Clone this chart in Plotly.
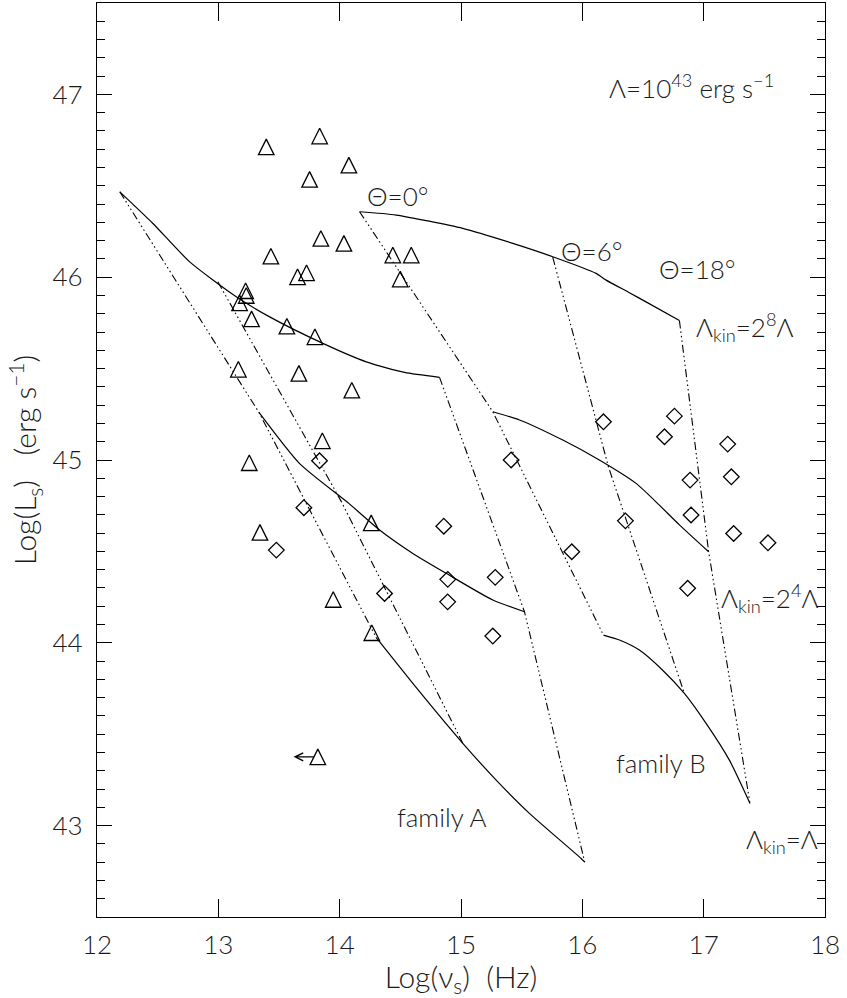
import plotly.graph_objects as go

# ---------------- data ----------------
# Triangles (family A sources)
tri_x = [13.395, 13.835, 14.076, 13.752, 13.845, 14.035, 13.433, 13.653, 13.727,
         13.225, 13.230, 13.175, 13.274, 13.565, 13.796, 13.165, 13.664, 14.438,
         14.590, 14.499, 14.100, 13.857, 13.255, 14.260, 13.343, 13.947, 14.265]
tri_y = [46.713, 46.772, 46.613, 46.535, 46.212, 46.185, 46.115, 46.002, 46.024,
         45.926, 45.900, 45.860, 45.772, 45.732, 45.674, 45.496, 45.474, 46.121,
         46.121, 45.990, 45.382, 45.105, 44.985, 44.656, 44.604, 44.237, 44.055]
# Upper limit in frequency (triangle with left arrow)
lim_x = [13.82]
lim_y = [43.376]
lim_to_x = [13.62]

# Diamonds (family B sources)
dia_x = [13.834, 13.705, 13.478, 14.370, 14.858, 14.891, 14.890, 15.262, 15.282,
         15.413, 15.913, 16.174, 16.355, 16.677, 16.759, 16.868, 16.888, 16.896,
         17.198, 17.228, 17.247, 17.530]
dia_y = [44.996, 44.739, 44.507, 44.270, 44.638, 44.347, 44.224, 44.037, 44.358,
         45.000, 44.498, 45.209, 44.667, 45.127, 45.240, 44.298, 44.890, 44.699,
         45.087, 44.908, 44.598, 44.547]

# Model curves, family A (solid: constant Lambda_kin)
a_top_x = [12.188, 12.461, 12.764, 13.148, 13.423, 13.862, 14.219, 14.535, 14.823]
a_top_y = [46.467, 46.294, 46.084, 45.893, 45.783, 45.638, 45.537, 45.479, 45.452]
a_mid_x = [13.335, 13.670, 14.080, 14.329, 14.603, 14.878, 15.262, 15.523]
a_mid_y = [45.260, 44.980, 44.760, 44.617, 44.489, 44.380, 44.234, 44.170]
a_bot_x = [14.300, 14.384, 14.603, 15.015, 15.290, 15.564, 15.990, 16.020]
a_bot_y = [44.030, 43.960, 43.778, 43.450, 43.249, 43.067, 42.820, 42.800]
# family A (dash-dot: constant Theta)
a_th0_x = [12.188, 13.335, 14.300]
a_th0_y = [46.467, 45.260, 44.030]
a_th6_x = [12.996, 14.015, 15.015]
a_th6_y = [45.975, 44.771, 43.450]
a_th18_x = [14.823, 15.523, 16.020]
a_th18_y = [45.452, 44.170, 42.800]

# Model curves, family B (solid)
b_top_x = [14.164, 14.466, 15.015, 15.427, 15.756, 16.113, 16.196, 16.388, 16.525, 16.800]
b_top_y = [46.358, 46.340, 46.267, 46.185, 46.112, 46.021, 45.984, 45.915, 45.865, 45.763]
b_mid_x = [15.262, 15.482, 15.839, 16.140, 16.443, 16.635, 16.800, 17.041]
b_mid_y = [45.264, 45.219, 45.109, 45.000, 44.872, 44.753, 44.645, 44.498]
b_bot_x = [16.174, 16.306, 16.470, 16.662, 16.841, 17.020, 17.212, 17.382]
b_bot_y = [44.042, 44.015, 43.960, 43.850, 43.723, 43.559, 43.358, 43.121]
# family B (dash-dot: constant Theta)
b_th0_x = [14.164, 15.262, 16.174]
b_th0_y = [46.358, 45.264, 44.042]
b_th6_x = [15.756, 16.213, 16.841]
b_th6_y = [46.110, 44.967, 43.723]
b_th18_x = [16.800, 17.041, 17.382]
b_th18_y = [45.763, 44.498, 43.121]

# ---------------- figure ----------------
FONT = "Lato"
INK = "#1a1a1a"
DASH = "8px,3px,1.5px,3px,1.5px,3px,1.5px,3px"
LBL = 26
TTL = 30
TCK = 26
NB = "\u00a0"

fig = go.Figure()

solid = [(a_top_x, a_top_y), (a_mid_x, a_mid_y), (a_bot_x, a_bot_y),
         (b_top_x, b_top_y), (b_mid_x, b_mid_y), (b_bot_x, b_bot_y)]
for xs, ys in solid:
    fig.add_trace(go.Scatter(x=xs, y=ys, mode="lines",
                             line=dict(color="black", width=1.2, shape="spline",
                                       smoothing=0.6),
                             showlegend=False, hoverinfo="skip"))

dashed = [(a_th0_x, a_th0_y), (a_th6_x, a_th6_y), (a_th18_x, a_th18_y),
          (b_th0_x, b_th0_y), (b_th6_x, b_th6_y), (b_th18_x, b_th18_y)]
for xs, ys in dashed:
    fig.add_trace(go.Scatter(x=xs, y=ys, mode="lines",
                             line=dict(color="black", width=1.1, dash=DASH),
                             showlegend=False, hoverinfo="skip"))

TRI_SIZE = 15.5
tri_marker = dict(symbol="arrow-down-open", size=TRI_SIZE, angle=180,
                  standoff=TRI_SIZE / 2, color="black",
                  line=dict(color="black", width=1.3))
fig.add_trace(go.Scatter(x=tri_x, y=tri_y, mode="markers", marker=tri_marker,
                         showlegend=False))
fig.add_trace(go.Scatter(x=lim_x, y=lim_y, mode="markers", marker=tri_marker,
                         showlegend=False))
fig.add_trace(go.Scatter(x=dia_x, y=dia_y, mode="markers",
                         marker=dict(symbol="diamond-open", size=12, color="black",
                                     line=dict(color="black", width=1.3)),
                         showlegend=False))

# upper-limit arrow
for x0, x1, y0 in zip(lim_x, lim_to_x, lim_y):
    fig.add_annotation(x=x1, y=y0, ax=x0 - 0.02, ay=y0, xref="x", yref="y",
                       axref="x", ayref="y", text="", showarrow=True,
                       arrowhead=5, arrowsize=1.3, arrowwidth=1.2,
                       arrowcolor="black")

labels = [
    (16.899, 47.045, "Λ=10<sup>43</sup> erg s<sup>−1</sup>", "center"),
    (14.477, 46.443, "Θ=0°", "center"),
    (16.079, 46.143, "Θ=6°", "center"),
    (16.948, 46.044, "Θ=18°", "center"),
    (16.923, 45.730, "Λ<sub>kin</sub>=2<sup>8</sup>Λ", "left"),
    (17.128, 44.245, "Λ<sub>kin</sub>=2<sup>4</sup>Λ", "left"),
    (17.335, 42.918, "Λ<sub>kin</sub>=Λ", "left"),
    (14.843, 43.046, "family A", "center"),
    (16.647, 43.345, "family B", "center"),
]
for x, y, t, anc in labels:
    fig.add_annotation(x=x, y=y, xref="x", yref="y", text=t, showarrow=False,
                       xanchor=anc, yanchor="middle",
                       font=dict(family=FONT, size=LBL, color=INK, weight=300))

fig.update_layout(
    width=847, height=998,
    margin=dict(l=97, r=22, t=3, b=81),
    paper_bgcolor="white", plot_bgcolor="white",
    font=dict(family=FONT, size=LBL, color=INK, weight=300),
    showlegend=False,
)
fig.update_xaxes(range=[12, 18], dtick=1, tick0=12, ticks="inside", ticklen=18,
                 tickwidth=1.1, tickcolor="black", showline=True, linecolor="black",
                 linewidth=1.3, mirror="ticks", showgrid=False, zeroline=False,
                 tickfont=dict(family=FONT, size=TCK, color=INK, weight=300),
                 ticklabelstandoff=5,
                 title=dict(text="Log(ν<sub>s</sub>)" + NB + NB + "(Hz)", standoff=0,
                            font=dict(family=FONT, size=TTL, color=INK, weight=300)))
fig.update_yaxes(range=[42.5, 47.5], dtick=1, tick0=43, ticks="inside", ticklen=15,
                 tickwidth=1.1, tickcolor="black", showline=True, linecolor="black",
                 linewidth=1.3, mirror="ticks", showgrid=False, zeroline=False,
                 minor=dict(dtick=0.1, ticks="inside", ticklen=8, tickwidth=1.0,
                            tickcolor="black", showgrid=False),
                 tickfont=dict(family=FONT, size=TCK, color=INK, weight=300),
                 ticklabelstandoff=8,
                 title=dict(text="Log(L<sub>s</sub>)" + NB * 3 + "(erg" + NB + "s<sup>−1</sup>)",
                            standoff=6,
                            font=dict(family=FONT, size=TTL, color=INK, weight=300)))

fig.write_html("out.html", config={"displayModeBar": False},
               post_script="document.body.style.margin='0';document.body.style.padding='0';")
